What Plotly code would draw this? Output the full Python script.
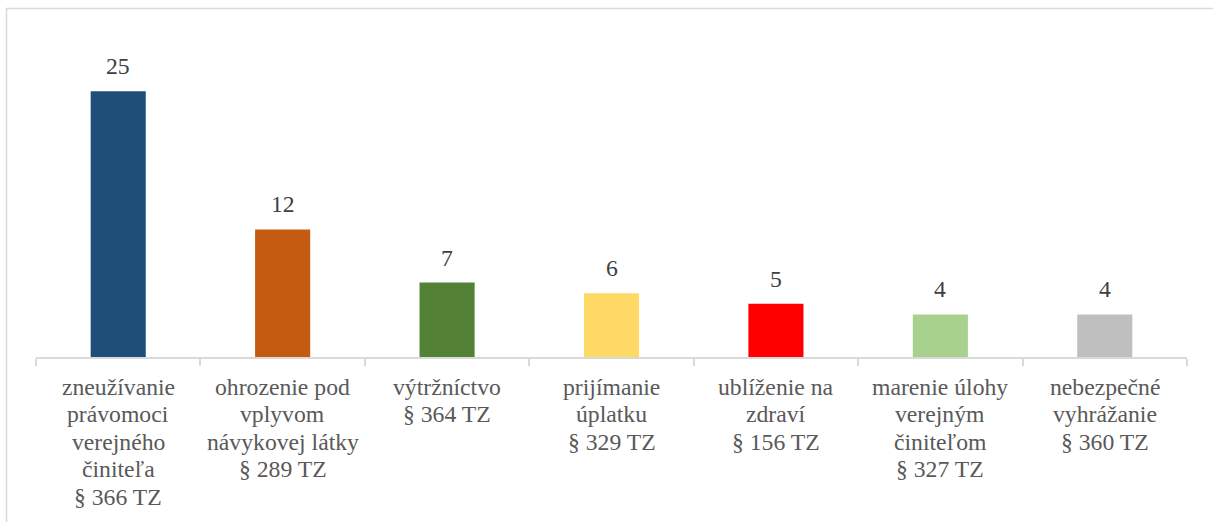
import plotly.graph_objects as go

label_lines = [
    ["zneužívanie", "právomoci", "verejného", "činiteľa", "§ 366 TZ"],
    ["ohrozenie pod", "vplyvom", "návykovej látky", "§ 289 TZ"],
    ["výtržníctvo", "§ 364 TZ"],
    ["prijímanie", "úplatku", "§ 329 TZ"],
    ["ublíženie na", "zdraví", "§ 156 TZ"],
    ["marenie úlohy", "verejným", "činiteľom", "§ 327 TZ"],
    ["nebezpečné", "vyhrážanie", "§ 360 TZ"],
]
categories = [" ".join(l) for l in label_lines]
values = [25, 12, 7, 6, 5, 4, 4]
colors = ["#1F4E79", "#C55A11", "#538135", "#FFD966", "#FF0000", "#A9D18E", "#BFBFBF"]

FONT = "Liberation Serif"
FS = 23.7

fig = go.Figure(go.Bar(x=categories, y=values, marker=dict(color=colors, line=dict(width=0)),
                       hoverinfo="x+y"))

W, H = 1213, 522
ml, mr, mt, mb = 36, 26, 38, 165
pw, ph = W - ml - mr, H - mt - mb

annotations = []
for c, v in zip(categories, values):
    annotations.append(dict(x=c, y=v, xref="x", yref="y", text=str(v), showarrow=False,
                            yanchor="bottom", yshift=10,
                            font=dict(family=FONT, size=FS, color="#404040")))
for c, lines in zip(categories, label_lines):
    for i, ln in enumerate(lines):
        annotations.append(dict(x=c, y=0, xref="x", yref="y", text=ln, showarrow=False,
                                yanchor="top", yshift=-15 - i * 27.4,
                                font=dict(family=FONT, size=FS, color="#595959")))

fig.update_layout(
    width=W, height=H,
    margin=dict(l=ml, r=mr, t=mt, b=mb),
    paper_bgcolor="white", plot_bgcolor="white",
    font=dict(family=FONT),
    bargap=0.665,
    showlegend=False,
    xaxis=dict(showticklabels=False, showline=True, linecolor="#D9D9D9", linewidth=1.5,
               ticks="outside", tickson="boundaries", ticklen=7, tickcolor="#D9D9D9",
               tickwidth=1.5, showgrid=False, zeroline=False),
    yaxis=dict(range=[0, 30], visible=False, showgrid=False, zeroline=False),
    annotations=annotations,
    shapes=[dict(type="rect", xref="paper", yref="paper",
                 x0=(6.5 - ml) / pw, x1=(W + 20 - ml) / pw,
                 y0=-(H + 20 - mt - ph) / ph, y1=(H - mb - 8.5) / ph,
                 line=dict(color="#D9D9D9", width=1.5), fillcolor="rgba(0,0,0,0)", layer="below")],
)

fig.write_html("out.html", config={"displayModeBar": False},
               post_script="document.body.style.margin='0';")
